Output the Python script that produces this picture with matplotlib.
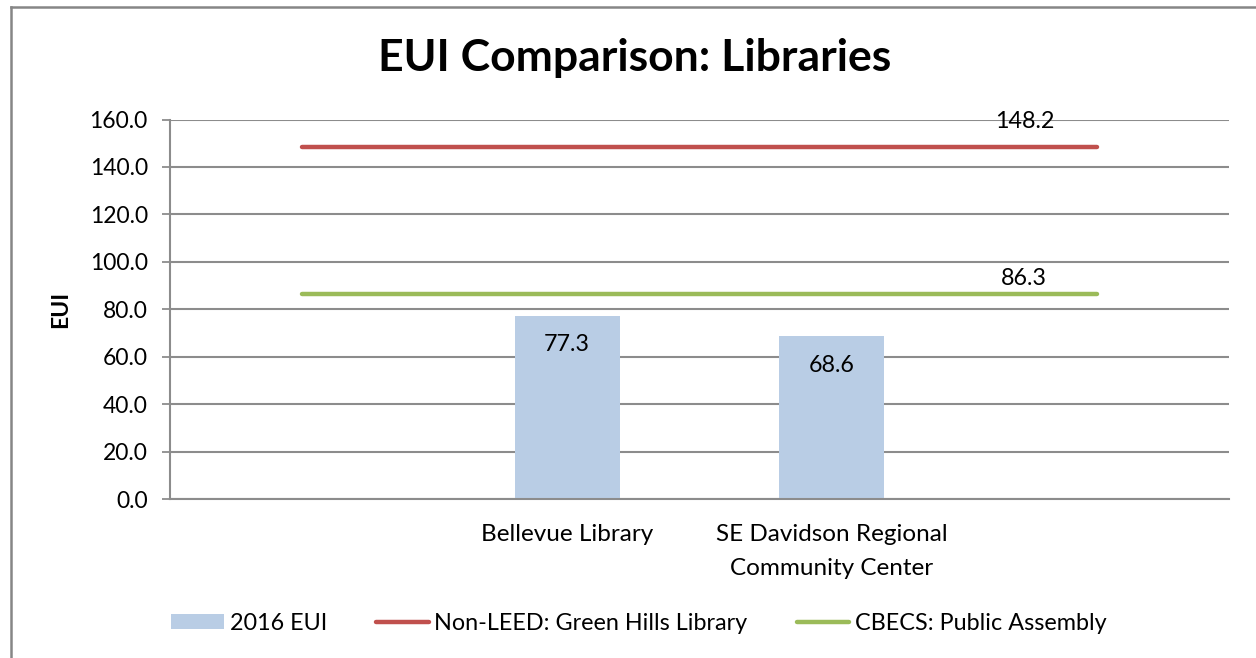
import matplotlib
matplotlib.use("Agg")
import matplotlib.pyplot as plt
from matplotlib.patches import Patch
from matplotlib.lines import Line2D
import numpy as np

plt.rcParams['font.family'] = ['Lato', 'DejaVu Sans']

categories = ["", "Bellevue Library", "SE Davidson Regional\nCommunity Center", ""]
eui_2016 = [np.nan, 77.3, 68.6, np.nan]
green_hills = [148.2, 148.2, 148.2, 148.2]
cbecs = [86.3, 86.3, 86.3, 86.3]
yticks = [0, 20, 40, 60, 80, 100, 120, 140, 160]

W, H = 1256, 658
fig = plt.figure(figsize=(W / 100, H / 100), dpi=100)
ax = fig.add_axes([170 / W, 1 - 499 / H, (1229 - 170) / W, (499 - 119.5) / H])

grid_c = '#8c8c8c'
x = np.arange(len(categories))
bar_c = '#b9cde5'
red_c = '#c0504d'
green_c = '#9bbb59'

ax.bar(x, eui_2016, width=0.396, color=bar_c, zorder=2)
ax.plot(x, green_hills, color=red_c, lw=3.2, solid_capstyle='round', zorder=3)
ax.plot(x, cbecs, color=green_c, lw=3.2, solid_capstyle='round', zorder=3)

for xi, v in zip(x, eui_2016):
    if not np.isnan(v):
        ax.annotate(f"{v:.1f}", (xi, v), xytext=(0, -21), textcoords='offset points',
                    ha='center', va='center', fontsize=16.8, color='black', zorder=4)
ax.annotate(f"{green_hills[-1]:.1f}", (2.73, green_hills[-1]), xytext=(0, 18.7),
            textcoords='offset points', ha='center', va='center', fontsize=16.8, zorder=4)
ax.annotate(f"{cbecs[-1]:.1f}", (2.725, cbecs[-1]), xytext=(0, 11.5),
            textcoords='offset points', ha='center', va='center', fontsize=16.8, zorder=4)

ax.set_xlim(-0.5, len(categories) - 0.5)
ax.set_ylim(0, 160)
ax.set_yticks(yticks)
ax.set_yticklabels([f"{t:.1f}" for t in yticks], fontsize=16.5)
ax.set_xticks(x)
ax.set_xticklabels(categories, fontsize=17.5, linespacing=1.75)
ax.tick_params(axis='x', length=0, pad=18)
ax.tick_params(axis='y', length=6, width=1.3, color=grid_c, pad=10)
ax.yaxis.grid(True, color=grid_c, lw=1.5, zorder=0)
ax.set_axisbelow(True)
for s in ['top', 'right']:
    ax.spines[s].set_visible(False)
for s in ['left', 'bottom']:
    ax.spines[s].set_color(grid_c)
    ax.spines[s].set_linewidth(1.5)

ax.set_ylabel("EUI", fontsize=16.5, fontweight='bold', labelpad=13)

fig.text(635 / W, 1 - 58 / H, "EUI Comparison: Libraries", ha='center', va='center',
         fontsize=32, fontweight='bold')

# chart border
fig.add_artist(Line2D([11 / W, 1.0], [1 - 7 / H, 1 - 7 / H], color='#868686', lw=1.8,
                      transform=fig.transFigure))
fig.add_artist(Line2D([11 / W, 11 / W], [1 - 7 / H, 0], color='#868686', lw=1.8,
                      transform=fig.transFigure))

handles = [Patch(facecolor=bar_c, edgecolor='none'),
           Line2D([], [], color=red_c, lw=3.2, solid_capstyle='round'),
           Line2D([], [], color=green_c, lw=3.2, solid_capstyle='round')]
labels = ["2016 EUI", "Non-LEED: Green Hills Library", "CBECS: Public Assembly"]
fig.legend(handles, labels, loc='center', bbox_to_anchor=(639 / W, 1 - 623 / H), ncol=3,
           frameon=False, fontsize=16.8, handlelength=2.25, handletextpad=0.25,
           columnspacing=2.1, handleheight=0.65)

fig.savefig("out.png", dpi=100)
